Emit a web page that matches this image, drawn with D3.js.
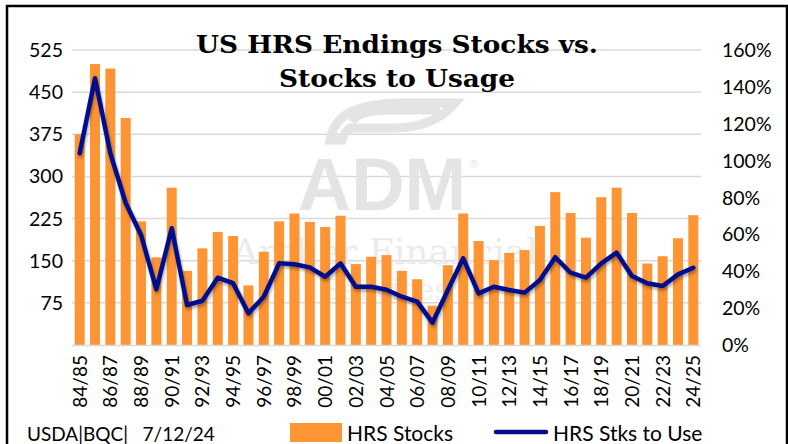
<!DOCTYPE html>
<html>
<head>
<meta charset="utf-8">
<script src="https://cdn.jsdelivr.net/npm/d3@7"></script>
<style>
  body { margin: 0; background: #fff; }
  svg { display: block; }
</style>
</head>
<body>
<div class="chart-area"></div>
<script>
// crop years, HRS ending stocks (mil bu) and stocks-to-use (%)
const years = ["84/85","85/86","86/87","87/88","88/89","89/90","90/91","91/92","92/93","93/94",
  "94/95","95/96","96/97","97/98","98/99","99/00","00/01","01/02","02/03","03/04",
  "04/05","05/06","06/07","07/08","08/09","09/10","10/11","11/12","12/13","13/14",
  "14/15","15/16","16/17","17/18","18/19","19/20","20/21","21/22","22/23","23/24","24/25"];
const stocks = [375,500,492,404,220,156,280,132,172,201,
  194,106,166,220,234,219,210,230,144,157,
  160,132,117,70,142,234,185,151,164,169,
  212,272,235,191,263,280,235,145,158,190,231];
const stocksToUse = [104,144.7,104,77,59.7,30.2,63.3,21.7,24,36.5,
  33.5,17.2,26.2,44.3,43.8,42.1,37,44.3,31.6,31.6,
  30,26.2,23.5,12.1,29.8,47,28,31.6,29.8,28.4,
  35.3,47.6,39.2,36.5,44.3,50.1,37.4,33.5,32,38.3,41.9];
const leftTicks = [75,150,225,300,375,450,525];
const rightTicks = [0,20,40,60,80,100,120,140,160];

const width = 788, height = 444;
const svg = d3.select(".chart-area").append("svg")
  .attr("width", width).attr("height", height);

const defs = svg.append("defs");
const f = defs.append("filter").attr("id", "shadow")
  .attr("x", "-10%").attr("y", "-10%").attr("width", "120%").attr("height", "130%");
f.append("feDropShadow").attr("dx", 1).attr("dy", 2.5).attr("stdDeviation", 1.5)
  .attr("flood-color", "#000").attr("flood-opacity", 0.35);

const x = d3.scaleBand().domain(years).range([72, 701])
  .paddingInner(0.35).paddingOuter(0.175);
const yL = d3.scaleLinear().domain([0, 525]).range([345, 50]);
const yR = d3.scaleLinear().domain([0, 160]).range([345, 50]);

// gridlines
svg.append("g").selectAll("line").data(leftTicks).join("line")
  .attr("x1", 72).attr("x2", 701)
  .attr("y1", d => yL(d)).attr("y2", d => yL(d))
  .attr("stroke", "#d9d9d9").attr("stroke-width", 1.5);

// watermark
const wm = svg.append("g").attr("fill", "#e4e4e4");
wm.append("path")
  .attr("d", "M330,140 C335,112 360,104 400,103 L455,103 C440,120 420,128 395,128 L350,128 C345,132 343,136 342,140 Z M352,122 C358,112 372,110 395,110 L440,110")
  .attr("fill", "none").attr("stroke", "#e4e4e4").attr("stroke-width", 9);
wm.append("text").attr("x", 382).attr("y", 210).attr("text-anchor", "middle")
  .attr("font-family", "Liberation Sans, Arial, sans-serif").attr("font-weight", "bold")
  .attr("font-size", 74).text("ADM");
wm.append("text").attr("x", 470).attr("y", 168)
  .attr("font-family", "Liberation Sans, sans-serif").attr("font-size", 11).text("®");
wm.append("text").attr("x", 385).attr("y", 264).attr("text-anchor", "middle")
  .attr("font-family", "DejaVu Serif, serif").attr("font-size", 36)
  .attr("fill", "#ebebeb").text("Archer Financial");
wm.append("text").attr("x", 385).attr("y", 300).attr("text-anchor", "middle")
  .attr("font-family", "DejaVu Serif, serif").attr("font-size", 30)
  .attr("fill", "#efefef").text("Services");

// bars
svg.append("g").selectAll("rect").data(years).join("rect")
  .attr("x", d => x(d))
  .attr("width", x.bandwidth())
  .attr("y", (d, i) => yL(stocks[i]))
  .attr("height", (d, i) => yL(0) - yL(stocks[i]))
  .attr("fill", "#fd9535");

// baseline
svg.append("line").attr("x1", 72).attr("x2", 701).attr("y1", 345.5).attr("y2", 345.5)
  .attr("stroke", "#d9d9d9").attr("stroke-width", 1.5);

// stocks to use line
const line = d3.line()
  .x((d, i) => x(years[i]) + x.bandwidth() / 2)
  .y(d => yR(d));
svg.append("path").datum(stocksToUse)
  .attr("d", line)
  .attr("fill", "none")
  .attr("stroke", "#000e8c")
  .attr("stroke-width", 4.5)
  .attr("stroke-linejoin", "round")
  .attr("stroke-linecap", "round")
  .attr("filter", "url(#shadow)");

const labelFont = "Lato, 'Open Sans', sans-serif";

// left axis labels
svg.append("g").selectAll("text").data(leftTicks).join("text")
  .attr("x", 63).attr("y", d => yL(d) + 7)
  .attr("text-anchor", "end")
  .attr("font-family", labelFont).attr("font-size", 19.5).attr("fill", "#000")
  .text(d => d);

// right axis labels
svg.append("g").selectAll("text").data(rightTicks).join("text")
  .attr("x", 722).attr("y", d => yR(d) + 7)
  .attr("font-family", labelFont).attr("font-size", 19.5).attr("fill", "#000")
  .text(d => d + "%");

// x labels, every other year
svg.append("g").selectAll("text").data(years.filter((d, i) => i % 2 === 0)).join("text")
  .attr("transform", d => `translate(${x(d) + x.bandwidth() / 2 + 7},355) rotate(-90)`)
  .attr("text-anchor", "end")
  .attr("font-family", labelFont).attr("font-size", 19).attr("fill", "#000")
  .text(d => d);

// title
const title = svg.append("g")
  .attr("font-family", "'DejaVu Serif', serif").attr("font-weight", "bold")
  .attr("text-anchor", "middle").attr("fill", "#000");
title.append("text").attr("x", 397).attr("y", 53).attr("font-size", 25)
  .attr("textLength", 402).attr("lengthAdjust", "spacingAndGlyphs")
  .text("US HRS Endings Stocks vs.");
title.append("text").attr("x", 397).attr("y", 87).attr("font-size", 25)
  .attr("textLength", 236).attr("lengthAdjust", "spacingAndGlyphs")
  .text("Stocks to Usage");

// footer and legend
svg.append("text").attr("x", 27).attr("y", 441)
  .attr("font-family", labelFont).attr("font-size", 19).text("USDA|BQC|   7/12/24")
  .attr("xml:space", "preserve").style("white-space", "pre");
svg.append("rect").attr("x", 290).attr("y", 423).attr("width", 52).attr("height", 19)
  .attr("fill", "#fd9535");
svg.append("text").attr("x", 347).attr("y", 441)
  .attr("font-family", labelFont).attr("font-size", 21).text("HRS Stocks");
svg.append("line").attr("x1", 496).attr("x2", 546).attr("y1", 432).attr("y2", 432)
  .attr("stroke", "#000e8c").attr("stroke-width", 4.5).attr("stroke-linecap", "round");
svg.append("text").attr("x", 553).attr("y", 441)
  .attr("font-family", labelFont).attr("font-size", 21).text("HRS Stks to Use");

// chart border
svg.append("rect").attr("x", 7).attr("y", 6).attr("width", 780).attr("height", 450)
  .attr("fill", "none").attr("stroke", "#000").attr("stroke-width", 2.5);
</script>
</body>
</html>
